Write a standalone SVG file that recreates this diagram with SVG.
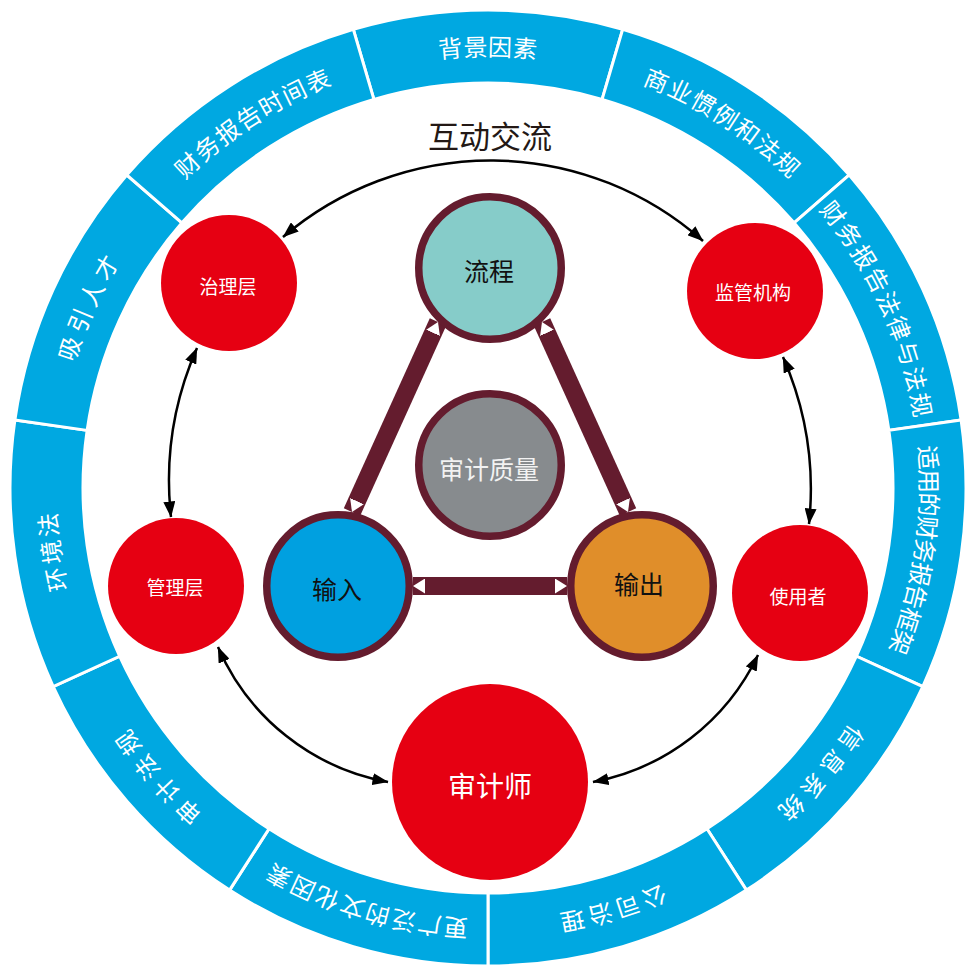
<svg xmlns="http://www.w3.org/2000/svg" width="965" height="967" viewBox="0 0 965 967">
<style>
.seg{fill:#00A8E1;stroke:#fff;stroke-width:3;stroke-linejoin:miter}
.rt{font-family:"Noto Sans CJK SC","Noto Sans",sans-serif;font-size:24px;fill:#fff;text-anchor:middle}
.red{fill:#E60012}
.tri{stroke:#641C2E;stroke-width:7.5}
.lbl{font-family:"Noto Sans CJK SC","Noto Sans",sans-serif;text-anchor:middle;dominant-baseline:central}
.w{fill:#fff}
.k{fill:#111}
.arc{fill:none;stroke:#000;stroke-width:2.5;marker-start:url(#ah);marker-end:url(#ah)}
.bar{fill:none;stroke:#641C2E;stroke-width:18;marker-start:url(#wt);marker-end:url(#wt)}
</style>
<defs>
<path id="tp" d="M488,920 A432,432 0 1 1 488,56 A432,432 0 1 1 488,920"/>
<marker id="ah" markerUnits="userSpaceOnUse" viewBox="0 0 16 12" markerWidth="16" markerHeight="12" refX="15.5" refY="6" orient="auto-start-reverse">
<path d="M0,0 L16,6 L0,12 z" fill="#000"/>
</marker>
<marker id="wt" markerUnits="userSpaceOnUse" viewBox="0 0 12 15" markerWidth="12" markerHeight="15" refX="12" refY="7.5" orient="auto-start-reverse">
<path d="M0,0 L12,7.5 L0,15 z" fill="#fff"/>
</marker>
</defs>
<rect width="965" height="967" fill="#fff"/>

<g id="ring">
<g id="seg-0"><path class="seg" d="M353.33,29.36 A478,478 0 0 1 622.67,29.36 L602.10,99.41 A405,405 0 0 0 373.90,99.41 Z"/>
<text class="rt" letter-spacing="0.5"><textPath href="#tp" startOffset="50%">背景因素</textPath></text></g>
<g id="seg-1"><path class="seg" d="M622.67,29.36 A478,478 0 0 1 849.25,174.98 L794.08,222.79 A405,405 0 0 0 602.10,99.41 Z"/>
<text class="rt" transform="rotate(32.727 488 488)" letter-spacing="1.5"><textPath href="#tp" startOffset="50%">商业惯例和法规</textPath></text></g>
<g id="seg-2"><path class="seg" d="M849.25,174.98 A478,478 0 0 1 961.13,419.98 L888.88,430.36 A405,405 0 0 0 794.08,222.79 Z"/>
<text class="rt" transform="rotate(65.455 488 488)" letter-spacing="2"><textPath href="#tp" startOffset="50%">财务报告法律与法规</textPath></text></g>
<g id="seg-3"><path class="seg" d="M961.13,419.98 A478,478 0 0 1 922.80,686.57 L856.40,656.25 A405,405 0 0 0 888.88,430.36 Z"/>
<text class="rt" transform="rotate(98.182 488 488)" letter-spacing="-1"><textPath href="#tp" startOffset="50%">适用的财务报告框架</textPath></text></g>
<g id="seg-4"><path class="seg" d="M922.80,686.57 A478,478 0 0 1 746.43,890.12 L706.96,828.71 A405,405 0 0 0 856.40,656.25 Z"/>
<text class="rt" transform="rotate(130.909 488 488)" letter-spacing="6"><textPath href="#tp" startOffset="50%">信息系统</textPath></text></g>
<g id="seg-5"><path class="seg" d="M746.43,890.12 A478,478 0 0 1 488,966 L488,893 A405,405 0 0 0 706.96,828.71 Z"/>
<text class="rt" transform="rotate(163.636 488 488)" letter-spacing="4"><textPath href="#tp" startOffset="50%">公司治理</textPath></text></g>
<g id="seg-6"><path class="seg" d="M488,966 A478,478 0 0 1 229.57,890.12 L269.04,828.71 A405,405 0 0 0 488,893 Z"/>
<text class="rt" transform="rotate(-163.636 488 488)" letter-spacing="2"><textPath href="#tp" startOffset="50%">更广泛的文化因素</textPath></text></g>
<g id="seg-7"><path class="seg" d="M229.57,890.12 A478,478 0 0 1 53.20,686.57 L119.60,656.25 A405,405 0 0 0 269.04,828.71 Z"/>
<text class="rt" transform="rotate(-130.909 488 488)" letter-spacing="6"><textPath href="#tp" startOffset="50%">审计法规</textPath></text></g>
<g id="seg-8"><path class="seg" d="M53.20,686.57 A478,478 0 0 1 14.87,419.98 L87.12,430.36 A405,405 0 0 0 119.60,656.25 Z"/>
<text class="rt" transform="rotate(-98.182 488 488)" letter-spacing="3"><textPath href="#tp" startOffset="50%">环境法</textPath></text></g>
<g id="seg-9"><path class="seg" d="M14.87,419.98 A478,478 0 0 1 126.75,174.98 L181.92,222.79 A405,405 0 0 0 87.12,430.36 Z"/>
<text class="rt" transform="rotate(-65.455 488 488)" letter-spacing="5"><textPath href="#tp" startOffset="50%">吸引人才</textPath></text></g>
<g id="seg-10"><path class="seg" d="M126.75,174.98 A478,478 0 0 1 353.33,29.36 L373.90,99.41 A405,405 0 0 0 181.92,222.79 Z"/>
<text class="rt" transform="rotate(-32.727 488 488)" letter-spacing="1.5"><textPath href="#tp" startOffset="50%">财务报告时间表</textPath></text></g>
</g>

<g id="title"><text x="490" y="148" font-family="Noto Sans CJK SC, Noto Sans, sans-serif" font-size="31" fill="#231815" text-anchor="middle">互动交流</text></g>

<g id="connectors">
<path class="arc" d="M283,237 A320,320 0 0 1 703,241"/>
<path class="arc" d="M197,348 A330,330 0 0 0 171,517"/>
<path class="arc" d="M218,647 A230,230 0 0 0 388,782"/>
<path class="arc" d="M593,782 A230,230 0 0 0 758,655"/>
<path class="arc" d="M783,357 A330,330 0 0 1 809,524"/>
<path class="bar" d="M352,512 L438,322"/>
<path class="bar" d="M628,512 L542,322"/>
<path class="bar" d="M413,586 L567,586"/>
</g>

<g id="n-zhilixing"><circle class="red" cx="229" cy="283" r="68"/><text class="lbl w" x="228" y="285" font-size="19">治理层</text></g>
<g id="n-jianguan"><circle class="red" cx="755" cy="291" r="68"/><text class="lbl w" x="753" y="291" font-size="19">监管机构</text></g>
<g id="n-guanli"><circle class="red" cx="176" cy="586" r="68"/><text class="lbl w" x="175" y="586" font-size="19">管理层</text></g>
<g id="n-shiyong"><circle class="red" cx="800" cy="593" r="68"/><text class="lbl w" x="798" y="595" font-size="19">使用者</text></g>
<g id="n-shenjishi"><circle class="red" cx="490" cy="782" r="98"/><text class="lbl w" x="490" y="785" font-size="28">审计师</text></g>

<g id="n-liucheng"><circle class="tri" cx="490" cy="268" r="71.25" fill="#86CCC9"/><text class="lbl k" x="489" y="270" font-size="25">流程</text></g>
<g id="n-zhiliang"><circle class="tri" cx="490" cy="465" r="71.25" fill="#878B8E"/><text class="lbl" fill="#f2f2f2" x="489" y="468" font-size="25">审计质量</text></g>
<g id="n-shuru"><circle class="tri" cx="338" cy="586" r="71.25" fill="#00A0E0"/><text class="lbl k" x="337" y="588" font-size="25">输入</text></g>
<g id="n-shuchu"><circle class="tri" cx="642" cy="586" r="71.25" fill="#E08E2A"/><text class="lbl k" x="639" y="583" font-size="25">输出</text></g>
</svg>
